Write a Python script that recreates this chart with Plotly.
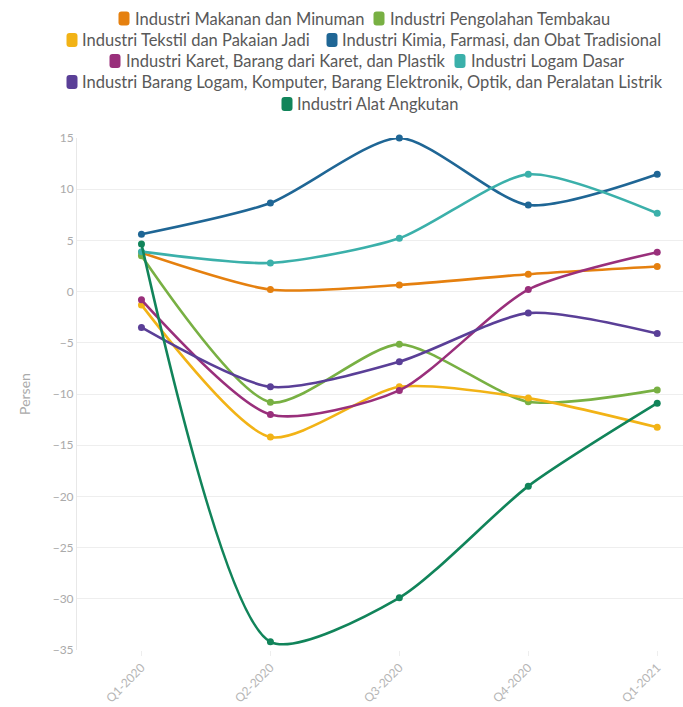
import plotly.graph_objects as go

quarters = ["Q1-2020", "Q2-2020", "Q3-2020", "Q4-2020", "Q1-2021"]

series_names = [
    "Industri Makanan dan Minuman",
    "Industri Pengolahan Tembakau",
    "Industri Tekstil dan Pakaian Jadi",
    "Industri Kimia, Farmasi, dan Obat Tradisional",
    "Industri Karet, Barang dari Karet, dan Plastik",
    "Industri Logam Dasar",
    "Industri Barang Logam, Komputer, Barang Elektronik, Optik, dan Peralatan Listrik",
    "Industri Alat Angkutan",
]

makanan = [3.8, 0.2, 0.65, 1.7, 2.45]
tembakau = [3.5, -10.8, -5.15, -10.75, -9.6]
tekstil = [-1.3, -14.2, -9.3, -10.4, -13.25]
kimia = [5.6, 8.65, 15.0, 8.45, 11.45]
karet = [-0.8, -12.0, -9.65, 0.2, 3.85]
logam_dasar = [3.9, 2.8, 5.2, 11.45, 7.65]
barang_logam = [-3.5, -9.3, -6.85, -2.1, -4.1]
alat_angkutan = [4.65, -34.2, -29.9, -19.0, -10.9]

values = [makanan, tembakau, tekstil, kimia, karet, logam_dasar, barang_logam, alat_angkutan]
colors = ["#e5800f", "#78b043", "#f2b316", "#1f6695", "#992f7b", "#3bb0aa", "#5a3f97", "#11845a"]

# legend layout (pixel positions of each entry: icon centre x, text start x, row centre y)
legend_icon_x = [124, 379, 72, 332, 115, 460, 72, 287]
legend_text_x = [134, 389, 81, 341, 125, 470, 81, 296]
legend_row_y = [18.5, 18.5, 40, 40, 61, 61, 82, 104]

W, H = 683, 707
L, R, T, B = 77, 0, 138, 57
pw, ph = W - L - R, H - T - B


def px2x(px):
    return (px - L) / pw


def py2y(py):
    return (H - B - py) / ph


fig = go.Figure()
for name, vals, col in zip(series_names, values, colors):
    fig.add_trace(go.Scatter(
        x=quarters, y=vals, name=name, mode="lines+markers",
        line=dict(color=col, width=2.6, shape="spline", smoothing=0.7),
        marker=dict(color=col, size=7),
        cliponaxis=False,
    ))

icon_path = ("M -5.5,-4 L -5.5,4 Q -5.5,7 -2.5,7 L 2.5,7 Q 5.5,7 5.5,4 L 5.5,-4 "
             "Q 5.5,-7 2.5,-7 L -2.5,-7 Q -5.5,-7 -5.5,-4 Z")
shapes = []
annotations = []
for name, col, ix, tx, ry in zip(series_names, colors, legend_icon_x, legend_text_x, legend_row_y):
    shapes.append(dict(type="path", xref="paper", yref="paper",
                       xsizemode="pixel", ysizemode="pixel",
                       xanchor=px2x(ix), yanchor=py2y(ry), path=icon_path,
                       fillcolor=col, line=dict(width=0), layer="above"))
    annotations.append(dict(text=name, xref="paper", yref="paper",
                            x=px2x(tx), y=py2y(ry), xanchor="left", yanchor="middle",
                            showarrow=False, borderpad=0,
                            font=dict(family="Lato", size=16.5, color="#595959")))

fig.update_layout(
    width=W, height=H,
    margin=dict(l=L, r=R, t=T, b=B),
    paper_bgcolor="white", plot_bgcolor="white",
    font=dict(family="Lato", color="#aaaaaa"),
    showlegend=False,
    shapes=shapes, annotations=annotations,
    xaxis=dict(type="category", range=[-0.5, 4.2], tickangle=-45,
               showgrid=False, ticks="outside", ticklen=5, tickcolor="#eeeeee",
               tickfont=dict(size=12, color="#b5b5b5"), showline=False, zeroline=False),
    yaxis=dict(range=[-35, 15], dtick=5, showgrid=True, gridcolor="#eeeeee",
               zeroline=False, showline=True, linecolor="#e8e8e8",
               tickfont=dict(size=12, color="#aaaaaa"),
               title=dict(text="Persen", font=dict(size=14, color="#aaaaaa"), standoff=18)),
)

fig.write_html("out.html")
